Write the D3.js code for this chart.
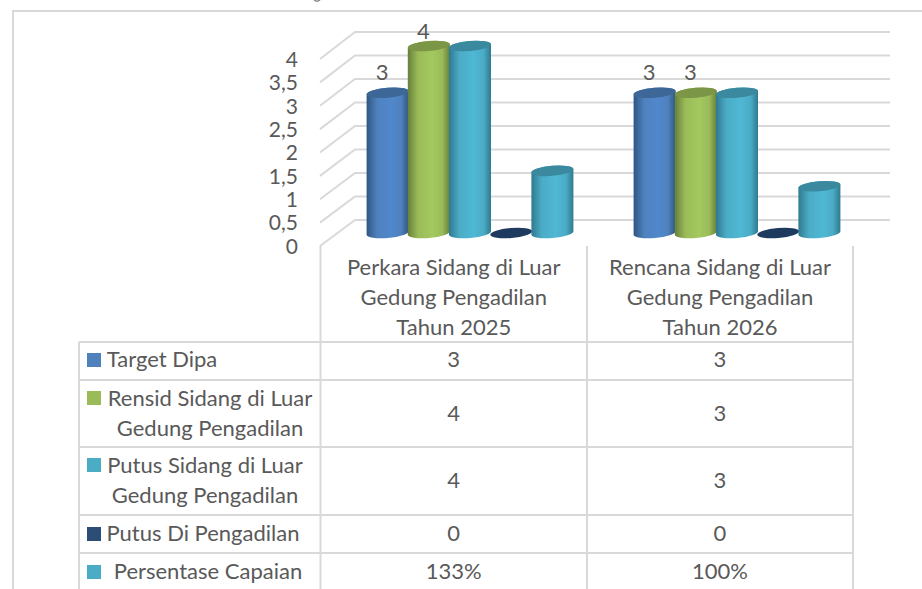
<!DOCTYPE html>
<html>
<head>
<meta charset="utf-8">
<script src="https://d3js.org/d3.v7.min.js"></script>
<style>
  html, body { margin: 0; padding: 0; background: #fff; overflow: hidden; }
  text { font-family: Lato, "Open Sans", sans-serif; fill: #595959; }
</style>
</head>
<body>
<div id="chart"></div>
<script>
// categories
var categories = ["Perkara Sidang di Luar Gedung Pengadilan Tahun 2025", "Rencana Sidang di Luar Gedung Pengadilan Tahun 2026"];
var categoryLines = [
  ["Perkara Sidang di Luar", "Gedung Pengadilan", "Tahun 2025"],
  ["Rencana Sidang di Luar", "Gedung Pengadilan", "Tahun 2026"]
];

// series values
var targetDipa = [3, 3];
var rensidSidang = [4, 3];
var putusSidang = [4, 3];
var putusPengadilan = [0, 0];
var persentaseCapaian = [1.33, 1];

var seriesNames = ["Target Dipa", "Rensid Sidang di Luar Gedung Pengadilan", "Putus Sidang di Luar Gedung Pengadilan", "Putus Di Pengadilan", "Persentase Capaian"];
var seriesLines = [
  ["Target Dipa"],
  ["Rensid Sidang di Luar", "Gedung Pengadilan"],
  ["Putus Sidang di Luar", "Gedung Pengadilan"],
  ["Putus Di Pengadilan"],
  ["Persentase Capaian"]
];
var seriesValues = [targetDipa, rensidSidang, putusSidang, putusPengadilan, persentaseCapaian];
var legendColors = ["#4f81bd", "#9bbb59", "#4bacc6", "#2c4d75", "#4bacc6"];
var sideDark = ["#2f5682", "#66803a", "#2f7a90", "#1f3a5f", "#2f7a90"];
var sideLight = ["#5088cc", "#a3c95f", "#4fb8d4", "#1f3a5f", "#4fb8d4"];
var topColors = ["#3d6796", "#7b9646", "#3a899f", "#1f3a5f", "#3a899f"];

// tick labels
var tickValues = [0, 0.5, 1, 1.5, 2, 2.5, 3, 3.5, 4];
var tickLabels = ["0", "0,5", "1", "1,5", "2", "2,5", "3", "3,5", "4"];

// layout of the page
var width = 922, height = 589;
var border = "#d9d9d9";
var colEdges = [79, 320.5, 587, 853];
var rowEdges = [342, 380, 447, 515, 553];
var rowCenters = [360, 414, 481, 534, 572];
var legendTextCenters = [162, 210, 205, 203, 208];
var fontSize = "22px";

var svg = d3.select("#chart")
  .append("svg")
  .attr("width", width)
  .attr("height", height);

// scales for the 3d box: front of the axis, back wall, and the cylinders
var yFront = d3.scaleLinear().domain([0, 4]).range([246, 59]);
var yBack = d3.scaleLinear().domain([0, 4]).range([220, 32]);
var yBar = d3.scaleLinear().domain([0, 4]).range([233, 46]);
var yLabel = d3.scaleLinear().domain([3, 4]).range([72, 31]);
var xGroup = d3.scaleBand().domain(d3.range(categories.length)).range([321, 855]);
var xSeries = d3.scaleBand().domain(d3.range(seriesNames.length)).range([0, 206]);

// outer frame, cut off by the picture on the right and at the bottom
svg.append("path")
  .attr("d", "M13," + height + "V11H" + width)
  .attr("fill", "none")
  .attr("stroke", border)
  .attr("stroke-width", 2);

// speck left over from the cropped title at the top edge
svg.append("path")
  .attr("d", "M314,0Q317,2.5 320,0")
  .attr("fill", "none")
  .attr("stroke", "#8c8c8c")
  .attr("stroke-width", 1.5);

// grid: back wall lines and the diagonals on the side wall
var grid = svg.append("g").attr("fill", "none").attr("stroke", border).attr("stroke-width", 2);
grid.selectAll("path")
  .data(tickValues)
  .enter()
  .append("path")
  .attr("d", function (d) {
    return "M320," + yFront(d) + "L355," + yBack(d) + "H890";
  });

// y axis
var yAxis = d3.axisLeft(yFront)
  .tickValues(tickValues)
  .tickSize(0)
  .tickPadding(0)
  .tickFormat(function (d, i) { return tickLabels[i]; });
var axisG = svg.append("g")
  .attr("transform", "translate(298,0)")
  .call(yAxis);
axisG.select(".domain").remove();
axisG.selectAll("text")
  .style("font-size", "21px")
  .style("font-family", "Lato, 'Open Sans', sans-serif")
  .attr("dy", "0.35em");

// gradient for every series, dark on the edges of the cylinder
var defs = svg.append("defs");
seriesNames.forEach(function (name, i) {
  var g = defs.append("linearGradient")
    .attr("id", "cyl" + i);
  g.append("stop").attr("offset", "0%").attr("stop-color", sideDark[i]);
  g.append("stop").attr("offset", "25%").attr("stop-color", legendColors[i]);
  g.append("stop").attr("offset", "58%").attr("stop-color", sideLight[i]);
  g.append("stop").attr("offset", "82%").attr("stop-color", legendColors[i]);
  g.append("stop").attr("offset", "100%").attr("stop-color", sideDark[i]);
});

var tilt = -5; // the ellipses lean a bit because of the chart rotation
var ry = 5;

function cylinderPath(cx, rx, top, base) {
  var dy = rx * Math.sin(-tilt * Math.PI / 180);
  return "M" + (cx - rx) + "," + (top + dy)
    + "L" + (cx - rx) + "," + (base + dy)
    + "A" + rx + "," + ry + "," + tilt + ",0,0," + (cx + rx) + "," + (base - dy)
    + "L" + (cx + rx) + "," + (top - dy)
    + "A" + rx + "," + ry + "," + tilt + ",0,0," + (cx - rx) + "," + (top + dy) + "Z";
}

// cylinders, drawn left to right so that later ones sit on top
var barData = [];
categories.forEach(function (c, ci) {
  seriesNames.forEach(function (s, si) {
    barData.push({ c: ci, s: si, v: seriesValues[si][ci] });
  });
});

var bars = svg.append("g")
  .selectAll("g")
  .data(barData)
  .enter()
  .append("g");

function barCenter(d) {
  return xGroup(d.c) + 46 + xSeries(d.s) + xSeries.bandwidth() / 2;
}

bars.filter(function (d) { return d.v > 0; })
  .append("path")
  .attr("d", function (d) {
    return cylinderPath(barCenter(d), xSeries.bandwidth() / 2 + 0.4, yBar(d.v), yBar(0));
  })
  .attr("fill", function (d) { return "url(#cyl" + d.s + ")"; });

bars.append("ellipse")
  .attr("cx", barCenter)
  .attr("cy", function (d) { return yBar(d.v); })
  .attr("rx", xSeries.bandwidth() / 2 + 0.4)
  .attr("ry", ry)
  .attr("transform", function (d) {
    return "rotate(" + tilt + "," + barCenter(d) + "," + yBar(d.v) + ")";
  })
  .attr("fill", function (d) { return topColors[d.s]; });

// data labels, only the first two series have them
svg.append("g")
  .selectAll("text")
  .data(barData.filter(function (d) { return d.s < 2; }))
  .enter()
  .append("text")
  .attr("x", function (d) { return barCenter(d) - 5.5; })
  .attr("y", function (d) { return yLabel(d.v); })
  .attr("dy", "0.35em")
  .attr("text-anchor", "middle")
  .style("font-size", fontSize)
  .text(function (d) { return d.v; });

// data table lines
var table = svg.append("g").attr("stroke", border).attr("stroke-width", 2);
[320.5, 587, 853].forEach(function (x) {
  table.append("line").attr("x1", x).attr("x2", x).attr("y1", 246).attr("y2", height);
});
table.append("line").attr("x1", 79).attr("x2", 79).attr("y1", rowEdges[0]).attr("y2", height);
rowEdges.forEach(function (y) {
  table.append("line").attr("x1", 79).attr("x2", 853).attr("y1", y).attr("y2", y);
});

// category headers
categoryLines.forEach(function (lines, i) {
  var cx = (colEdges[i + 1] + colEdges[i + 2]) / 2;
  svg.append("text")
    .attr("text-anchor", "middle")
    .style("font-size", fontSize)
    .selectAll("tspan")
    .data(lines)
    .enter()
    .append("tspan")
    .attr("x", cx)
    .attr("y", function (d, j) { return 275 + j * 30; })
    .text(function (d) { return d; });
});

// legend keys and series names in the first column
seriesNames.forEach(function (name, i) {
  var lines = seriesLines[i];
  svg.append("rect")
    .attr("x", 87)
    .attr("y", (lines.length > 1 ? rowCenters[i] - 23 : rowCenters[i] - 7))
    .attr("width", 14)
    .attr("height", 14)
    .attr("fill", legendColors[i]);
  svg.append("text")
    .attr("text-anchor", "middle")
    .style("font-size", fontSize)
    .selectAll("tspan")
    .data(lines)
    .enter()
    .append("tspan")
    .attr("x", legendTextCenters[i])
    .attr("y", function (d, j) {
      return rowCenters[i] + 7 + (j - (lines.length - 1) / 2) * 29.5;
    })
    .text(function (d) { return d; });
});

// table values
var pct = d3.format(".0%");
seriesValues.forEach(function (vals, i) {
  vals.forEach(function (v, c) {
    svg.append("text")
      .attr("x", (colEdges[c + 1] + colEdges[c + 2]) / 2)
      .attr("y", rowCenters[i] + 7)
      .attr("text-anchor", "middle")
      .style("font-size", fontSize)
      .text(i == 4 ? pct(v) : v);
  });
});
</script>
</body>
</html>
